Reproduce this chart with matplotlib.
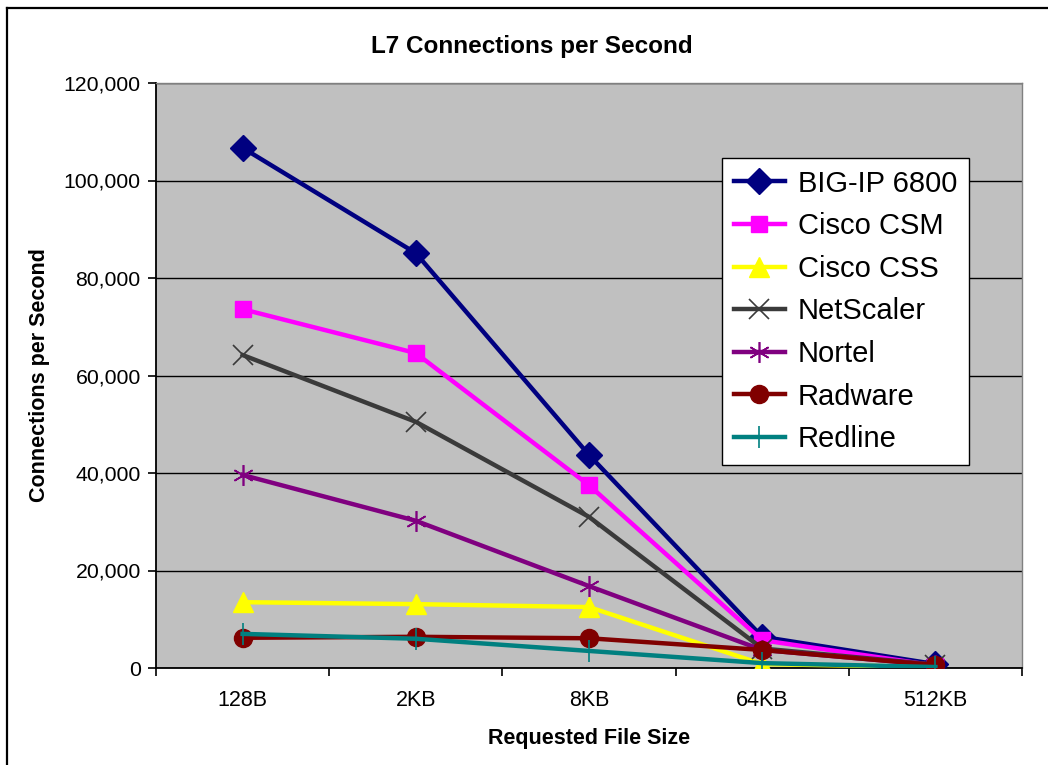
import matplotlib
matplotlib.use("Agg")
import matplotlib.pyplot as plt
from matplotlib.lines import Line2D
from matplotlib.ticker import FuncFormatter, MultipleLocator, FixedLocator

plt.rcParams['font.family'] = ['Liberation Sans', 'DejaVu Sans']

categories = ["128B", "2KB", "8KB", "64KB", "512KB"]
big_ip = [106700, 85100, 43700, 6400, 800]
cisco_csm = [73600, 64600, 37500, 5700, 500]
cisco_css = [13500, 13100, 12500, 800, 200]
netscaler = [64200, 50500, 31000, 4000, 700]
nortel = [39600, 30200, 16800, 3700, 600]
radware = [6200, 6400, 6100, 3700, 600]
redline = [7000, 6000, 3500, 1000, 200]

series = [
    ("BIG-IP 6800", big_ip, "#000080", "D", 13, "#000080"),
    ("Cisco CSM", cisco_csm, "#FF00FF", "s", 12, "#FF00FF"),
    ("Cisco CSS", cisco_css, "#FFFF00", "^", 14, "#FFFF00"),
    ("NetScaler", netscaler, "#3A3A3A", "x", 14, "#3A3A3A"),
    ("Nortel", nortel, "#800080", (6, 2, 0), 15, "#800080"),
    ("Radware", radware, "#800000", "o", 13, "#800000"),
    ("Redline", redline, "#008080", "|", 16, "#008080"),
]

fig = plt.figure(figsize=(10.48, 7.65), dpi=100)
ax = fig.add_axes([156/1048, 1-668/765, (1022-156)/1048, (668-83)/765])
ax.set_facecolor("#C0C0C0")

x = list(range(len(categories)))
handles = []
for name, vals, col, mk, ms, mc in series:
    thin = mk in ("x", "|") or isinstance(mk, tuple)
    ln, = ax.plot(x, vals, color=col, lw=3.2, marker=mk, markersize=ms,
                  markerfacecolor=mc, markeredgecolor=mc,
                  markeredgewidth=1.2 if thin else 1, label=name, zorder=3)
    handles.append(ln)

ax.set_xlim(-0.5, 4.5)
ax.set_ylim(0, 120000)
ax.yaxis.set_major_locator(MultipleLocator(20000))
ax.yaxis.set_major_formatter(FuncFormatter(lambda v, p: f"{int(v):,}"))
ax.grid(axis="y", color="black", lw=1)
ax.set_axisbelow(True)
ax.set_xticks(x)
ax.set_xticklabels(categories)
ax.xaxis.set_minor_locator(FixedLocator([i - 0.5 for i in range(6)]))
ax.tick_params(axis="x", which="major", length=0, pad=16, labelsize=15.5)
ax.tick_params(axis="x", which="minor", length=6, width=1.2, direction="out")
ax.tick_params(axis="y", length=6, width=1.2, labelsize=15.3, pad=5)

for side in ("top", "right"):
    ax.spines[side].set_color("#808080")
    ax.spines[side].set_linewidth(1)
for side in ("left", "bottom"):
    ax.spines[side].set_color("black")
    ax.spines[side].set_linewidth(1.3)

fig.text(532/1048, 1-46/765, "L7 Connections per Second", fontsize=17.5,
         fontweight="bold", ha="center", va="center")
ax.set_xlabel("Requested File Size", fontsize=15.5, fontweight="bold", labelpad=12)
ax.set_ylabel("Connections per Second", fontsize=15.5, fontweight="bold", labelpad=10)

leg = ax.legend(handles=handles, loc="upper left",
                bbox_to_anchor=((722-156)/866, (668-158)/585),
                fontsize=21, frameon=True, fancybox=False, edgecolor="black",
                facecolor="white", framealpha=1, handlelength=1.75,
                handletextpad=0.45, borderpad=0.4, labelspacing=0.5,
                borderaxespad=0)
leg.get_frame().set_linewidth(1)

# figure border (top and left visible)
fig.add_artist(Line2D([7/1048, 1.0], [1-8/765, 1-8/765], color="black", lw=1.6,
                      transform=fig.transFigure))
fig.add_artist(Line2D([7/1048, 7/1048], [0, 1-8/765], color="black", lw=1.6,
                      transform=fig.transFigure))

fig.savefig("out.png", dpi=100)
